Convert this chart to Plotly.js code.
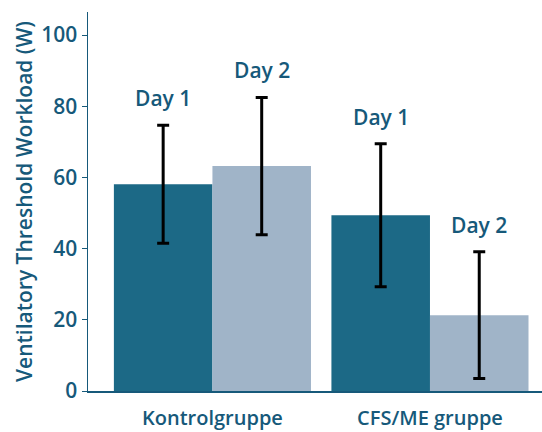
<!DOCTYPE html>
<html><head><meta charset="utf-8">
<script src="https://cdn.plot.ly/plotly-3.0.1.min.js"></script>
<style>html,body{margin:0;padding:0;background:#fff}#chart{width:542px;height:432px}</style>
</head><body><div id="chart"></div>
<script>
const groups = ["Kontrolgruppe", "CFS/ME gruppe"];
const day1 = [58.1, 49.4];
const day1Err = [16.6, 20.1];
const day2 = [63.2, 21.3];
const day2Err = [19.3, 17.8];
const seriesNames = ["Day 1", "Day 2"];
const yTicks = [0, 20, 40, 60, 80, 100];

const textColor = "#16597a";
const c1 = "#1c6986", c2 = "#a0b4c8";
const font = "Open Sans, Noto Sans, sans-serif";

const traces = [
  {type:"bar", name:seriesNames[0], x:groups, y:day1, marker:{color:c1},
   error_y:{type:"data", array:day1Err, visible:true, color:"#000", thickness:3, width:6}},
  {type:"bar", name:seriesNames[1], x:groups, y:day2, marker:{color:c2},
   error_y:{type:"data", array:day2Err, visible:true, color:"#000", thickness:3, width:6}}
];
const off = 0.2265;
const annotations = [];
groups.forEach((g,i)=>{
  annotations.push({x:i-off, y:day1[i]+day1Err[i], xref:"x", yref:"y", text:seriesNames[0], showarrow:false, yanchor:"bottom", yshift:11, font:{family:font, size:21, color:textColor, weight:600}});
  annotations.push({x:i+off, y:day2[i]+day2Err[i], xref:"x", yref:"y", text:seriesNames[1], showarrow:false, yanchor:"bottom", yshift:11, font:{family:font, size:21, color:textColor, weight:600}});
});
const layout = {
  width:542, height:432,
  margin:{l:88, r:0, t:12, b:41},
  paper_bgcolor:"#fff", plot_bgcolor:"#fff",
  barmode:"group", bargap:0.094, bargroupgap:0,
  showlegend:false,
  font:{family:font, color:textColor},
  xaxis:{type:"category", range:[-0.572, 1.515], showline:true, linecolor:textColor, linewidth:1.5,
    ticks:"", showgrid:false, zeroline:false, ticklabelstandoff:8,
    tickfont:{size:20, color:textColor, weight:600}},
  yaxis:{range:[0,106.5], tickvals:yTicks, showline:true, linecolor:textColor, linewidth:1.5,
    ticks:"outside", ticklen:5, tickcolor:textColor, showgrid:false, zeroline:false,
    tickfont:{size:21, color:textColor, weight:600},
    title:{text:"Ventilatory Threshold Workload (W)", font:{size:21, color:textColor, weight:600}, standoff:3}},
  annotations:annotations
};
Plotly.newPlot("chart", traces, layout, {displayModeBar:false, staticPlot:true});
</script></body></html>
